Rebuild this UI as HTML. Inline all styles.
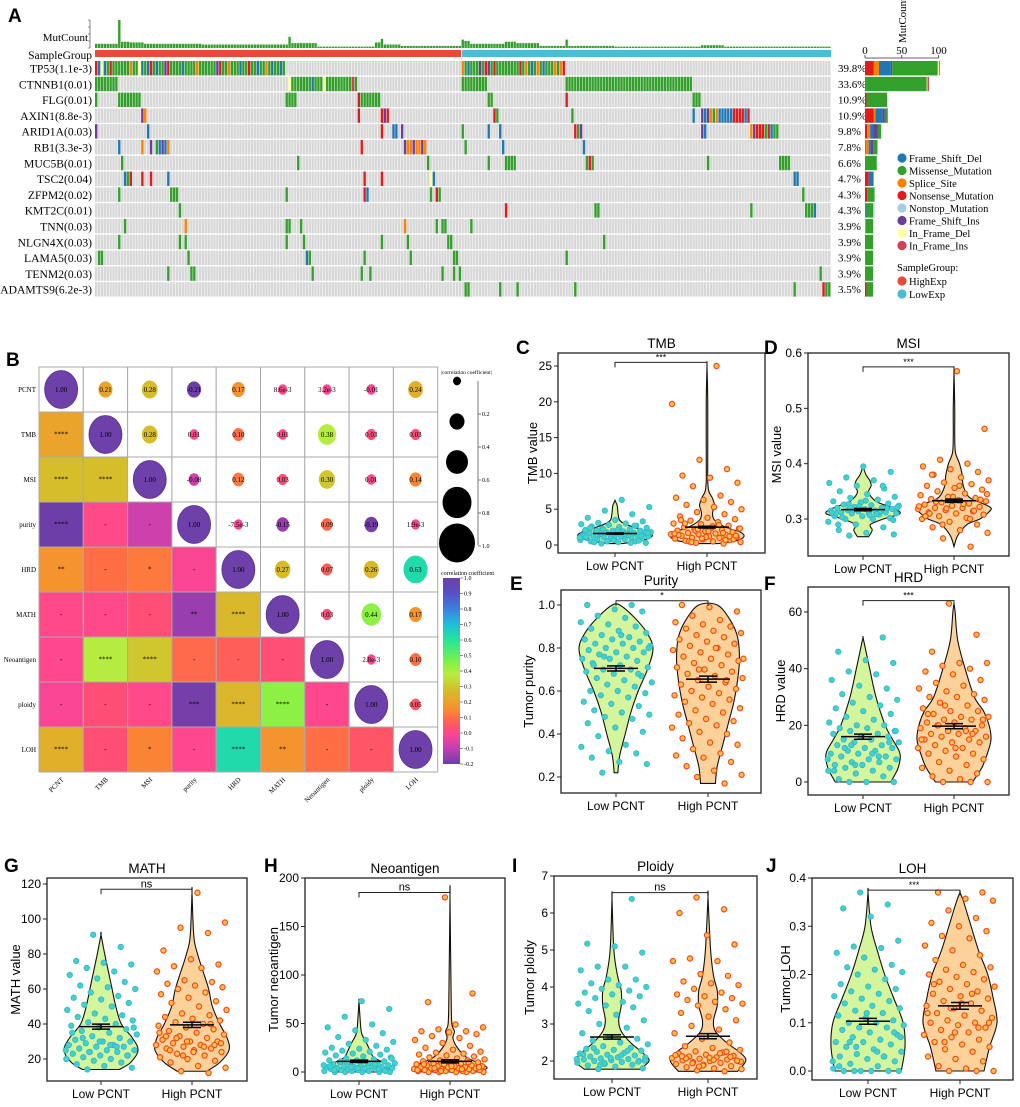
<!DOCTYPE html>
<html><head><meta charset="utf-8"><title>PCNT mutation and genomic features</title>
<style>
html,body{margin:0;padding:0;background:#fff;}
svg{display:block;}
text{font-family:"Liberation Sans",Arial,sans-serif;}
.serif{font-family:"Liberation Serif","Times New Roman",serif;}
</style></head>
<body>
<svg id="fig" xmlns="http://www.w3.org/2000/svg" width="1020" height="1107" viewBox="0 0 1020 1107">
<defs>
<pattern id="cellpat" patternUnits="userSpaceOnUse" x="95" y="0" width="2.886" height="20"><rect x="0" y="0" width="2.35" height="20" fill="#d7d7d7"/></pattern>
<linearGradient id="cgrad" x1="0" y1="0" x2="0" y2="1"></linearGradient>
</defs>
</svg>
<script>
// ===================== DATA =====================
const geneNames=["TP53(1.1e-3)","CTNNB1(0.01)","FLG(0.01)","AXIN1(8.8e-3)","ARID1A(0.03)","RB1(3.3e-3)","MUC5B(0.01)","TSC2(0.04)","ZFPM2(0.02)","KMT2C(0.01)","TNN(0.03)","NLGN4X(0.03)","LAMA5(0.03)","TENM2(0.03)","ADAMTS9(6.2e-3)"];
const genePct=["39.8%","33.6%","10.9%","10.9%","9.8%","7.8%","6.6%","4.7%","4.3%","4.3%","3.9%","3.9%","3.9%","3.9%","3.5%"];
const nSamples=255;
const nHigh=127;
const mutations=[
[0,0,"NFDFMNMMMMMMSMMDFMFNMFMMINMMMMFMMMMSMMMMMMINMMSMMMFMMNMMFMMSMFMMFM"],
[0,127,"SMFMMMIMNIMNMMMMMMMMNMSMFMSMFMMMSMSN"],
[1,0,8,"M"],[1,67,"DMMMMMMMFMMMDMMMMMMMMMRM"],[1,127,9,"M"],[1,163,44,"M"],
[2,0,1,"M"],[2,8,8,"M"],[2,66,4,"M"],[2,91,"NMMMMMMM"],[2,136,2,"M"],[2,163,"N"],[2,207,3,"M"],
[3,16,"IS"],[3,91,"N"],[3,99,"NIN"],[3,138,"NM"],[3,165,"M"],[3,207,"F"],[3,210,"IFISMSFFFFFNNNNFN"],
[4,0,"I"],[4,18,"F"],[4,99,"N"],[4,103,"FF"],[4,106,"I"],[4,127,"M"],[4,136,"F"],[4,140,"F"],[4,166,"NMI"],[4,210,"IF"],[4,227,"SINNNMNFMM"],
[5,8,"F"],[5,16,"S"],[5,19,"I"],[5,21,"MFIFS"],[5,92,"N"],[5,107,"ISSISSIS"],[5,128,"M"],[5,141,"F"],[5,169,"F"],
[6,9,"M"],[6,70,"M"],[6,115,"M"],[6,136,"M"],[6,142,4,"M"],[6,170,"MNM"],[6,212,"M"],[6,237,4,"M"],
[7,10,"FMN"],[7,16,"N"],[7,19,"N"],[7,25,"F"],[7,93,"N"],[7,99,"N"],[7,116,"DF"],[7,242,"FF"],
[8,8,"M"],[8,26,3,"M"],[8,66,"M"],[8,93,"NF"],[8,116,"M"],[8,118,"NM"],[8,245,"M"],
[9,29,"M"],[9,142,"N"],[9,173,2,"M"],[9,227,"M"],[9,246,"MMMF"],
[10,10,"M"],[10,31,"S"],[10,66,2,"M"],[10,71,"M"],[10,107,"S"],[10,118,"M"],[10,120,2,"M"],[10,130,"M"],
[11,8,"M"],[11,29,"M"],[11,31,"M"],[11,66,"M"],[11,72,"M"],[11,99,"M"],[11,108,"M"],[11,122,2,"M"],[11,176,"M"],
[12,1,2,"M"],[12,32,"M"],[12,73,"FM"],[12,93,"M"],[12,109,"M"],[12,124,2,"M"],[12,163,"M"],
[13,25,"M"],[13,33,2,"M"],[13,75,"M"],[13,92,"M"],[13,95,"M"],[13,120,"M"],[13,124,"M"],[13,126,"M"],[13,251,"M"],
[14,128,"M"],[14,129,"M"],[14,140,"M"],[14,146,"M"],[14,166,"M"],[14,242,"M"],[14,252,"NMM"]
];
const mutCountRuns=[[0,8,6],[8,1,40],[9,3,9],[12,5,8],[17,10,6],[27,10,6],[37,15,5],[52,15,5],[67,1,16],[68,9,7],[77,20,2],[97,2,8],[99,1,13],[100,6,5],[106,21,3],[127,1,12],[128,2,10],[130,12,6],[142,4,9],[146,8,7],[154,9,3],[163,1,12],[164,16,3],[180,30,2],[210,8,4],[218,30,2],[248,7,2]];
const barN=[12,0,2,12,3,1,0,5,3,1,0,0,0,0,2];
const barS=[7,0,0,2,4,4,0,0,0,0,1,0,0,0,0];
const barF=[16,0,0,10,4,3,0,6,1,1,0,0,1,0,0];
const barI=[2,0,0,3,6,3,0,0,0,0,0,0,0,0,0];
const barM=[62,84,28,4,5,6,16,1,9,9,10,11,10,11,9];
const barT=[0,0,0,0,0,0,0,0,0,2,0,0,0,0,0];
const barD=[2,1,0,0,0,0,0,1,0,0,0,0,0,0,0];
const barR=[1,2,0,0,0,0,0,0,0,0,0,0,0,0,0];
const barTicks=[0,50,100];
const mutTypes=["Frame_Shift_Del","Missense_Mutation","Splice_Site","Nonsense_Mutation","Nonstop_Mutation","Frame_Shift_Ins","In_Frame_Del","In_Frame_Ins"];

const corrVars=["PCNT","TMB","MSI","purity","HRD","MATH","Neoantigen","ploidy","LOH"];
const corrRow0=[1,0.21,0.28,-0.21,0.17,0.0086,0.0032,-0.01,0.24];
const corrRow1=[0.21,1,0.28,0.01,0.10,0.01,0.38,0.03,0.03];
const corrRow2=[0.28,0.28,1,-0.08,0.12,0.03,0.30,0.01,0.14];
const corrRow3=[-0.21,0.01,-0.08,1,-0.0075,-0.15,0.09,-0.19,0.0019];
const corrRow4=[0.17,0.10,0.12,-0.0075,1,0.27,0.07,0.26,0.63];
const corrRow5=[0.0086,0.01,0.03,-0.15,0.27,1,0.03,0.44,0.17];
const corrRow6=[0.0032,0.38,0.30,0.09,0.07,0.03,1,0.0028,0.10];
const corrRow7=[-0.01,0.03,0.01,-0.19,0.26,0.44,0.0028,1,0.05];
const corrRow8=[0.24,0.03,0.14,0.0019,0.63,0.17,0.10,0.05,1];
const corrStars=[
[],
["****"],
["****","****"],
["****","-","-"],
["**","-","*","-"],
["-","-","-","**","****"],
["-","****","****","-","-","-"],
["-","-","-","***","****","****","-"],
["****","-","*","-","****","**","-","-"]
];
const sizeLegendVals=[0.2,0.4,0.6,0.8,1.0];
const colorbarTicks=[1.0,0.9,0.8,0.7,0.6,0.5,0.4,0.3,0.2,0.1,0.0,-0.1,-0.2];

const tmbTicks=[0,5,10,15,20,25];
const tmbLow=[0.2,0.3,0.4,0.5,0.5,0.6,0.7,0.8,0.8,0.9,1,1,1.1,1.1,1.2,1.2,1.3,1.3,1.4,1.4,1.5,1.5,1.6,1.6,1.7,1.7,1.8,1.8,1.9,1.9,2,2,2.1,2.2,2.3,2.4,2.5,2.6,2.7,2.8,2.9,3,3.1,3.3,3.5,3.8,4.3,4.8,5.3,6.3,0.4,0.6,0.9,1.2,1.4,1.6,1.8,2.1,2.4,2.7,0.5,1,1.5,2,1.3,0.7,1.1,0.3,2.2,1.7];
const tmbHigh=[0.2,0.3,0.4,0.5,0.6,0.7,0.8,0.9,1,1,1.1,1.2,1.3,1.4,1.5,1.5,1.6,1.7,1.8,1.9,2,2.1,2.2,2.3,2.4,2.5,2.7,2.9,3,3.2,3.4,3.6,3.8,4,4.3,4.6,5,5.3,5.6,6,6.3,6.6,6.9,8.2,8.7,9.4,9.7,10.6,11.9,19.7,25,0.5,0.8,1.1,1.4,1.7,2,2.3,2.6,3,1.2,0.9,1.6,2.8,0.4,1.3,1.9,3.5,0.7,2.2];
const tmbLowShape=[[0.2,0.2],[0.6,0.7],[1.2,1],[1.8,0.9],[2.4,0.55],[3,0.25],[3.5,0.12],[4.5,0.08],[5.5,0.06],[6.2,0]];
const tmbHighShape=[[0.2,0.3],[0.6,0.8],[1.2,1],[1.8,0.9],[2.5,0.5],[3.5,0.2],[4.5,0.15],[5.5,0.2],[6.5,0.15],[7.5,0.05],[9,0.02],[12,0.02],[20,0.02],[25,0]];
const tmbStats=[1.6,0.08,2.5,0.12];

const msiTicks=[0.3,0.4,0.5,0.6];
const msiLow=[0.27,0.272,0.275,0.28,0.285,0.29,0.295,0.3,0.3,0.302,0.305,0.305,0.308,0.31,0.31,0.31,0.312,0.312,0.314,0.315,0.315,0.316,0.318,0.318,0.32,0.32,0.322,0.324,0.325,0.326,0.328,0.33,0.332,0.335,0.338,0.34,0.345,0.35,0.355,0.36,0.365,0.37,0.375,0.385,0.395,0.31,0.313,0.317,0.321,0.307,0.303,0.319,0.323,0.311,0.309,0.327,0.298,0.333,0.29,0.36];
const msiHigh=[0.25,0.265,0.275,0.28,0.285,0.29,0.295,0.3,0.302,0.305,0.308,0.31,0.312,0.314,0.316,0.318,0.32,0.32,0.322,0.324,0.326,0.328,0.33,0.332,0.334,0.336,0.338,0.34,0.343,0.346,0.35,0.353,0.356,0.36,0.363,0.366,0.37,0.375,0.38,0.385,0.39,0.395,0.4,0.407,0.463,0.567,0.31,0.315,0.319,0.323,0.327,0.331,0.335,0.34,0.305,0.3,0.29,0.345,0.36,0.38];
const msiLowShape=[[0.268,0.15],[0.28,0.25],[0.29,0.2],[0.3,0.55],[0.31,1],[0.32,0.8],[0.33,0.4],[0.34,0.22],[0.35,0.15],[0.36,0.22],[0.37,0.18],[0.38,0.08],[0.395,0]];
const msiHighShape=[[0.25,0],[0.27,0.1],[0.29,0.35],[0.3,0.7],[0.31,0.9],[0.32,1],[0.33,0.7],[0.34,0.4],[0.36,0.25],[0.38,0.22],[0.4,0.15],[0.42,0.04],[0.45,0.02],[0.5,0.02],[0.567,0]];
const msiStats=[0.317,0.002,0.333,0.003];

const purTicks=[0.2,0.4,0.6,0.8,1.0];
const purLow=[0.22,0.26,0.27,0.29,0.31,0.32,0.34,0.35,0.39,0.41,0.43,0.45,0.47,0.48,0.49,0.5,0.51,0.53,0.54,0.55,0.57,0.58,0.59,0.6,0.6,0.62,0.63,0.64,0.65,0.66,0.67,0.68,0.69,0.7,0.7,0.71,0.72,0.73,0.74,0.75,0.75,0.76,0.77,0.78,0.78,0.79,0.8,0.8,0.81,0.82,0.82,0.83,0.84,0.84,0.85,0.86,0.87,0.88,0.89,0.9,0.91,0.92,0.94,0.95,0.97,0.98,1,1,0.76,0.8,0.86,0.72,0.68];
const purHigh=[0.17,0.2,0.21,0.23,0.25,0.27,0.29,0.3,0.31,0.33,0.35,0.36,0.38,0.4,0.41,0.43,0.44,0.45,0.46,0.47,0.49,0.5,0.51,0.52,0.54,0.55,0.56,0.57,0.58,0.59,0.6,0.61,0.62,0.63,0.64,0.65,0.66,0.67,0.68,0.69,0.7,0.71,0.72,0.73,0.74,0.75,0.76,0.77,0.78,0.79,0.8,0.81,0.82,0.83,0.84,0.85,0.86,0.87,0.88,0.89,0.9,0.91,0.92,0.93,0.95,0.97,0.99,1,0.65,0.7,0.75,0.8];
const purLowShape=[[0.22,0.05],[0.3,0.1],[0.4,0.25],[0.5,0.4],[0.6,0.6],[0.7,0.85],[0.8,1],[0.88,0.8],[0.95,0.45],[1,0.1]];
const purHighShape=[[0.17,0.2],[0.25,0.25],[0.35,0.4],[0.45,0.55],[0.55,0.7],[0.65,0.8],[0.75,0.85],[0.85,0.8],[0.93,0.6],[1,0.25]];
const purStats=[0.705,0.012,0.655,0.014];

const hrdTicks=[0,20,40,60];
const hrdLow=[0,0,0,1,2,3,4,4,5,5,6,6,7,7,8,8,9,9,10,10,11,11,12,12,13,13,14,14,15,15,16,16,17,17,18,18,19,19,20,20,21,22,23,24,25,26,27,28,29,30,31,33,34,36,38,39,42,43,46,51,6,8,10,12,14,16,4,9,13,18];
const hrdHigh=[0,0,0,1,2,3,4,5,6,7,8,9,10,10,11,12,12,13,14,14,15,15,16,16,17,17,18,18,19,19,20,20,21,21,22,22,23,23,24,25,25,26,27,28,29,30,30,31,32,33,34,35,36,38,39,40,41,42,42,46,52,63,15,18,20,22,12,24,17,27];
const hrdLowShape=[[0,0.75],[5,0.95],[10,1],[15,0.8],[20,0.6],[30,0.35],[40,0.18],[48,0.05],[51,0]];
const hrdHighShape=[[0,0.5],[5,0.75],[10,0.9],[15,1],[20,0.95],[25,0.8],[30,0.55],[40,0.3],[50,0.1],[60,0.03],[63,0]];
const hrdStats=[16,0.9,19.7,0.9];

const mathTicks=[20,40,60,80,100,120];
const mathLow=[14,15,16,17,18,19,20,20,21,22,22,23,24,24,25,25,26,27,27,28,28,29,30,30,31,32,33,34,35,36,37,38,39,40,41,42,43,44,45,46,48,50,51,52,54,55,56,58,60,61,62,64,66,68,70,72,74,75,76,84,91,25,28,32,22,30,35,27,24,38];
const mathHigh=[12,13,15,16,18,19,20,21,22,23,24,25,26,26,27,28,28,29,30,30,31,32,33,34,35,36,37,38,39,40,41,42,43,44,45,46,48,50,52,53,55,57,58,60,61,62,63,64,65,70,72,73,74,77,82,92,95,98,115,25,28,30,35,27,32,29,24,33,40,22];
const mathLowShape=[[14,0.5],[18,0.8],[25,1],[32,0.85],[40,0.55],[50,0.4],[60,0.3],[70,0.2],[80,0.1],[91,0]];
const mathHighShape=[[13,0.4],[18,0.75],[25,1],[32,0.95],[40,0.75],[50,0.55],[60,0.45],[70,0.3],[80,0.15],[90,0.05],[115,0]];
const mathStats=[38.5,1.4,39.5,1.5];

const neoTicks=[0,50,100,150,200];
const neoLow=[0,0,0,0,0,1,1,1,2,2,2,3,3,3,4,4,4,5,5,5,6,6,7,7,8,8,9,9,10,10,11,12,12,13,14,15,16,17,18,19,20,21,22,23,24,25,27,29,31,33,36,40,43,46,49,57,65,73,2,3,5,7,9,11,1,4,6,8,10,14];
const neoHigh=[0,0,0,0,0,1,1,1,1,2,2,2,2,3,3,3,4,4,4,5,5,5,6,6,6,7,7,8,8,9,9,10,10,11,12,12,13,14,15,16,17,18,19,20,21,23,25,27,30,33,35,37,39,41,42,42,44,46,49,72,81,180,2,3,4,5,6,8,10,1];
const neoLowShape=[[0,0.6],[5,0.9],[10,0.65],[15,0.4],[22,0.3],[30,0.2],[40,0.07],[55,0.03],[73,0]];
const neoHighShape=[[0,0.75],[4,1],[8,0.85],[15,0.45],[25,0.2],[35,0.08],[42,0.12],[50,0.05],[80,0.03],[180,0]];
const neoStats=[11,1.2,11,1.6];

const ploTicks=[2,3,4,5,6,7];
const ploLow=[1.78,1.8,1.85,1.88,1.9,1.92,1.95,1.97,2,2,2.02,2.04,2.05,2.07,2.1,2.1,2.12,2.15,2.17,2.2,2.22,2.25,2.28,2.3,2.33,2.36,2.4,2.45,2.5,2.55,2.6,2.65,2.75,2.9,3,3.1,3.25,3.35,3.45,3.5,3.55,3.6,3.7,3.75,3.8,3.85,3.9,3.95,4,4.05,4.1,4.2,4.2,4.45,4.55,4.55,4.93,5.1,5.17,6.38,1.95,2.05,2.15,2.35,1.98,2.08,2.18,2.28,1.9,2.01];
const ploHigh=[1.72,1.75,1.78,1.8,1.83,1.86,1.9,1.92,1.95,1.97,2,2,2.02,2.04,2.06,2.08,2.1,2.12,2.14,2.17,2.2,2.23,2.26,2.3,2.35,2.4,2.5,2.6,2.75,2.85,2.95,3.1,3.2,3.3,3.4,3.5,3.55,3.6,3.65,3.7,3.75,3.8,3.85,3.95,4.05,4.1,4.15,4.3,4.35,4.7,4.7,4.77,5.15,5.4,6,6.1,6.42,1.98,2.03,2.07,2.11,1.88,2.16,2.21,1.94,2.01,2.09,2.13,2.25,1.85];
const ploLowShape=[[1.78,0.75],[2,1],[2.2,0.85],[2.5,0.5],[2.8,0.25],[3.1,0.18],[3.5,0.25],[3.9,0.25],[4.3,0.15],[5,0.05],[6.4,0]];
const ploHighShape=[[1.72,0.8],[2,1.02],[2.2,0.9],[2.5,0.5],[2.8,0.2],[3.1,0.15],[3.5,0.25],[3.9,0.25],[4.3,0.15],[5,0.07],[6.42,0]];
const ploStats=[2.65,0.06,2.67,0.07];

const lohTicks=[0.0,0.1,0.2,0.3,0.4];
const lohLow=[0,0,0,0,0,0,0.005,0.01,0.015,0.02,0.025,0.03,0.03,0.035,0.04,0.045,0.05,0.055,0.06,0.06,0.065,0.07,0.075,0.08,0.085,0.09,0.09,0.095,0.1,0.1,0.105,0.11,0.115,0.12,0.125,0.13,0.135,0.14,0.145,0.15,0.155,0.16,0.165,0.17,0.175,0.18,0.19,0.2,0.205,0.21,0.215,0.22,0.235,0.245,0.255,0.258,0.27,0.32,0.337,0.345,0.37,0.02,0.04,0.06,0.08,0.12,0.01,0.03,0.05,0.07];
const lohHigh=[0,0,0,0.005,0.01,0.02,0.025,0.03,0.04,0.045,0.05,0.055,0.06,0.065,0.07,0.075,0.08,0.085,0.09,0.095,0.1,0.1,0.105,0.11,0.115,0.12,0.125,0.13,0.135,0.14,0.145,0.15,0.155,0.16,0.165,0.17,0.175,0.18,0.185,0.19,0.195,0.2,0.205,0.21,0.215,0.22,0.23,0.24,0.25,0.26,0.275,0.28,0.29,0.3,0.307,0.317,0.333,0.353,0.357,0.37,0.37,0.08,0.12,0.16,0.06,0.1,0.14,0.18,0.09,0.13];
const lohLowShape=[[0,0.9],[0.05,1],[0.1,0.95],[0.15,0.7],[0.2,0.45],[0.25,0.25],[0.3,0.08],[0.37,0]];
const lohHighShape=[[0,0.65],[0.05,0.8],[0.1,1],[0.15,0.9],[0.2,0.75],[0.25,0.5],[0.3,0.3],[0.35,0.1],[0.37,0]];
const lohStats=[0.103,0.006,0.135,0.007];

// ===================== DRAWING =====================
const NS='http://www.w3.org/2000/svg';
const svg=document.getElementById('fig');
function mk(tag,parent,a){const e=document.createElementNS(NS,tag);for(const k in a)e.setAttribute(k,a[k]);parent.appendChild(e);return e;}
function tx(parent,x,y,s,a){const e=mk('text',parent,Object.assign({x:x,y:y},a||{}));e.textContent=s;return e;}
const typeColor={F:'#1f78b4',M:'#33a02c',S:'#ff7f00',N:'#e31a1c',T:'#a6cee3',I:'#6a3d9a',D:'#ffff99',R:'#d53e4f'};
const legendColors=['#1f78b4','#33a02c','#ff7f00','#e31a1c','#a6cee3','#6a3d9a','#ffff99','#d53e4f'];

const letters=[['A',8,22],['B',6,366],['C',516,354],['D',764,354],['E',510,590],['F',764,590],['G',4,872],['H',264,872],['I',512,872],['J',766,872]];
letters.forEach(l=>{const t=tx(svg,l[1],l[2],l[0],{'font-size':'19','font-weight':'bold',fill:'#000'});

});

// ---------- Panel A ----------
const gA=mk('g',svg,{});


const X0=95,X1=831,CW=(X1-X0)/nSamples,ROW0=61,RH=15.8,CH=14.4;
const mcG=mk('g',gA,{});


const mcBase=48, mcScale=0.7;
mutCountRuns.forEach(r=>{for(let k=0;k<r[1];k++){const i=r[0]+k;const h=r[2]*mcScale;
const b=mk('rect',mcG,{x:X0+i*CW,y:mcBase-h,width:CW-0.5,height:h,fill:'#33a02c'});

}});
const mcAx=mk('path',gA,{d:'M90,20 V48 M88,20 H90 M88,27 H90 M88,34 H90 M88,41 H90 M88,48 H90',stroke:'#333','stroke-width':'0.6',fill:'none'});


const mcl=tx(gA,88,41,'MutCount',{'class':'serif','font-size':'11','text-anchor':'end'});


const sgl=tx(gA,92,59,'SampleGroup',{'class':'serif','font-size':'11.5','text-anchor':'end'});


const hb=mk('rect',gA,{x:X0,y:50,width:nHigh*CW-0.5,height:7,fill:'#e64b35'});


const lb=mk('rect',gA,{x:X0+nHigh*CW+0.5,y:50,width:(nSamples-nHigh)*CW-0.5,height:7,fill:'#4dbbd5'});


geneNames.forEach((g,r)=>{const y=ROW0+r*RH;
const bg=mk('rect',gA,{x:X0,y:y,width:X1-X0,height:CH,fill:'url(#cellpat)'});


const t=tx(gA,92,y+11.5,g,{'class':'serif','font-size':'11.6','text-anchor':'end'});


const p=tx(gA,838,y+11,genePct[r],{'class':'serif','font-size':'11'});

});
mutations.forEach(m=>{const r=m[0];let codes;
if(typeof m[2]==='number'){codes=m[3].repeat(m[2]);}else codes=m[2];
for(let k=0;k<codes.length;k++){const i=m[1]+k;
const c=mk('rect',gA,{x:X0+i*CW,y:ROW0+r*RH,width:CW-0.5,height:CH,fill:typeColor[codes[k]]});

}});
const BX0=865,BS=0.735;
const stackOrder=[['N',barN],['S',barS],['F',barF],['I',barI],['M',barM],['T',barT],['D',barD],['R',barR]];
geneNames.forEach((g,r)=>{let acc=0;stackOrder.forEach(s=>{const v=s[1][r];if(v>0){
const b=mk('rect',gA,{x:BX0+acc*BS,y:ROW0+r*RH,width:v*BS,height:CH,fill:typeColor[s[0]]});

acc+=v;}});});
const bax=mk('path',gA,{d:'M'+BX0+',58 H'+(BX0+100*BS),stroke:'#333','stroke-width':'0.8',fill:'none'});


barTicks.forEach(v=>{const x=BX0+v*BS;
const tk=mk('line',gA,{x1:x,x2:x,y1:55,y2:58,stroke:'#333','stroke-width':'0.8'});


const t=tx(gA,x,54,String(v),{'class':'serif','font-size':'11','text-anchor':'middle'});

});
const mct=tx(gA,0,0,'MutCount',{'class':'serif','font-size':'11',transform:'translate(906,43) rotate(-90)'});


mutTypes.forEach((m,k)=>{const y=158+k*12.5;
const c=mk('circle',gA,{cx:902,cy:y,r:4.6,fill:legendColors[k]});


const t=tx(gA,909,y+4,m,{'class':'serif','font-size':'10.5'});

});
const sgt=tx(gA,897,271,'SampleGroup:',{'class':'serif','font-size':'10.5'});


[['HighExp','#e64b35',281],['LowExp','#4dbbd5',294]].forEach(s=>{
const c=mk('circle',gA,{cx:902,cy:s[2],r:4.6,fill:s[1]});


const t=tx(gA,909,s[2]+4,s[0],{'class':'serif','font-size':'10.5'});

});

// ---------- Panel B ----------
const corrR=[corrRow0,corrRow1,corrRow2,corrRow3,corrRow4,corrRow5,corrRow6,corrRow7,corrRow8];
const cstops=[[-0.2,'#6e3ea8'],[-0.1,'#c23fb2'],[0,'#ff4690'],[0.05,'#ff5566'],[0.1,'#ff6e45'],[0.15,'#fa8a30'],[0.2,'#eea02b'],[0.28,'#d6bd2a'],[0.38,'#b6ec40'],[0.45,'#85f245'],[0.6,'#22e598'],[0.7,'#1fbfd8'],[0.8,'#3c7fe0'],[0.9,'#5850c6'],[1.0,'#6e40aa']];
function hex2(c){return [parseInt(c.substr(1,2),16),parseInt(c.substr(3,2),16),parseInt(c.substr(5,2),16)];}
function ccol(v){v=Math.max(-0.2,Math.min(1,v));for(let k=0;k<cstops.length-1;k++){const a=cstops[k],b=cstops[k+1];if(v<=b[0]){const t=(v-a[0])/(b[0]-a[0]);const A=hex2(a[1]),B=hex2(b[1]);return 'rgb('+A.map((x,i)=>Math.round(x+(B[i]-x)*t)).join(',')+')';}}return cstops[cstops.length-1][1];}
function fmt(v){if(v===1)return '1.00';if(Math.abs(v)<0.01&&v!==0){return v.toExponential(1);}return v.toFixed(2);}
const gB=mk('g',svg,{});


const GX=39,GY=367,GW=44.3,GH=45;
corrVars.forEach((vn,i)=>{corrVars.forEach((vm,j)=>{const x=GX+j*GW,y=GY+i*GH,v=corrR[i][j];
if(i>j){const c=mk('rect',gB,{x:x,y:y,width:GW,height:GH,fill:ccol(v),stroke:'#aaa','stroke-width':'1'});


const t=tx(gB,x+GW/2,y+GH/2+2,corrStars[i][j],{'class':'serif','font-size':'7','text-anchor':'middle'});

}
else{const c=mk('rect',gB,{x:x,y:y,width:GW,height:GH,fill:'#fff',stroke:'#aaa','stroke-width':'1'});


const rx=4.5+12*Math.abs(v);
const e=mk('ellipse',gB,{cx:x+GW/2,cy:y+GH/2,rx:rx,ry:rx*1.15,fill:ccol(v),stroke:'#5a3090','stroke-width':i===j?'0.8':'0'});


const t=tx(gB,x+GW/2,y+GH/2+2.5,fmt(v),{'class':'serif','font-size':'7','text-anchor':'middle'});

}});
const rl=tx(gB,36,GY+i*GH+GH/2+2.5,vn,{'class':'serif','font-size':'7','text-anchor':'end'});


const cx=GX+i*GW+GW/2;
const cl=tx(gB,0,0,vn,{'class':'serif','font-size':'7','text-anchor':'end',transform:'translate('+(cx+3)+','+(GY+9*GH+8)+') rotate(-45)'});

});
const slt=tx(gB,441,374,'|correlation coefficient|',{'class':'serif','font-size':'5.5'});


const slAx=mk('path',gB,{d:'M478,381 V545',stroke:'#555','stroke-width':'0.8',fill:'none'});


sizeLegendVals.forEach((v,k)=>{const y=381+k*40.5;
const rr=4+14*(v-0.2)/0.8;
const c=mk('ellipse',gB,{cx:457,cy:y,rx:rr,ry:rr*1.08,fill:'#000'});


const ty=381+33*(k+1);
const tk=mk('line',gB,{x1:478,x2:481,y1:ty,y2:ty,stroke:'#555','stroke-width':'0.8'});


const t=tx(gB,482,ty+2,v.toFixed(1),{'class':'serif','font-size':'6'});

});
const grad=document.getElementById('cgrad');
cstops.slice().reverse().forEach(s=>{mk('stop',grad,{offset:((1-s[0])/1.2*100)+'%','stop-color':s[1]});});
const cbt=tx(gB,441,575,'correlation coefficient',{'class':'serif','font-size':'6'});


const CBT=578,CBB=764;
const cb=mk('rect',gB,{x:443,y:CBT,width:17,height:CBB-CBT,fill:'url(#cgrad)'});


colorbarTicks.forEach(v=>{const y=CBT+(1-v)/1.2*(CBB-CBT);
const tk=mk('line',gB,{x1:460,x2:463,y1:y,y2:y,stroke:'#555','stroke-width':'0.7'});


const t=tx(gB,464,y+2,v.toFixed(1),{'class':'serif','font-size':'6'});

});

// ---------- Violin panels ----------
const panels=[
{id:'tmb',title:'TMB',ylab:'TMB value',box:[558,353,765,553],xl:615,xh:707,y0:0,y1:25,p0:545,p1:366,ticks:tmbTicks,dec:0,low:tmbLow,high:tmbHigh,ls:tmbLowShape,hs:tmbHighShape,st:tmbStats,sig:'***',sigV:25.5,ylx:531},
{id:'msi',title:'MSI',ylab:'MSI value',box:[808,353,1009,556],xl:863,xh:954,y0:0.3,y1:0.6,p0:519,p1:353,ticks:msiTicks,dec:1,low:msiLow,high:msiHigh,ls:msiLowShape,hs:msiHighShape,st:msiStats,sig:'***',sigV:0.575,ylx:775},
{id:'purity',title:'Purity',ylab:'Tumor purity',box:[561,590,761,793],xl:616,xh:708,y0:0.2,y1:1.0,p0:777,p1:605,ticks:purTicks,dec:1,low:purLow,high:purHigh,ls:purLowShape,hs:purHighShape,st:purStats,sig:'*',sigV:1.02,ylx:527},
{id:'hrd',title:'HRD',ylab:'HRD value',box:[808,587,1009,795],xl:863,xh:954,y0:0,y1:60,p0:782,p1:612,ticks:hrdTicks,dec:0,low:hrdLow,high:hrdHigh,ls:hrdLowShape,hs:hrdHighShape,st:hrdStats,sig:'***',sigV:64,ylx:779},
{id:'math',title:'MATH',ylab:'MATH value',box:[47,878,247,1081],xl:101,xh:192,y0:20,y1:120,p0:1059,p1:884,ticks:mathTicks,dec:0,low:mathLow,high:mathHigh,ls:mathLowShape,hs:mathHighShape,st:mathStats,sig:'ns',sigV:117,ylx:14},
{id:'neo',title:'Neoantigen',ylab:'Tumor neoantigen',box:[305,878,505,1081],xl:359,xh:450,y0:0,y1:200,p0:1072,p1:878,ticks:neoTicks,dec:0,low:neoLow,high:neoHigh,ls:neoLowShape,hs:neoHighShape,st:neoStats,sig:'ns',sigV:185,ylx:272},
{id:'ploidy',title:'Ploidy',ylab:'Tumor ploidy',box:[554,876,757,1079],xl:612,xh:708,y0:2,y1:7,p0:1061,p1:876,ticks:ploTicks,dec:0,low:ploLow,high:ploHigh,ls:ploLowShape,hs:ploHighShape,st:ploStats,sig:'ns',sigV:6.55,ylx:528},
{id:'loh',title:'LOH',ylab:'Tumor LOH',box:[812,878,1013,1080],xl:868,xh:960,y0:0,y1:0.4,p0:1071,p1:878,ticks:lohTicks,dec:1,low:lohLow,high:lohHigh,ls:lohLowShape,hs:lohHighShape,st:lohStats,sig:'***',sigV:0.375,ylx:784}
];
const MAXW=37;
function catmull(pts){let d='M'+pts[0][0].toFixed(2)+','+pts[0][1].toFixed(2);
for(let i=0;i<pts.length-1;i++){const p0=pts[Math.max(0,i-1)],p1=pts[i],p2=pts[i+1],p3=pts[Math.min(pts.length-1,i+2)];
const c1=[p1[0]+(p2[0]-p0[0])/6,p1[1]+(p2[1]-p0[1])/6],c2=[p2[0]-(p3[0]-p1[0])/6,p2[1]-(p3[1]-p1[1])/6];
d+=' C'+c1[0].toFixed(2)+','+c1[1].toFixed(2)+' '+c2[0].toFixed(2)+','+c2[1].toFixed(2)+' '+p2[0].toFixed(2)+','+p2[1].toFixed(2);}
return d+' Z';}
panels.forEach(p=>{
const g=mk('g',svg,{});


const ys=v=>p.p0+(v-p.y0)*(p.p1-p.p0)/(p.y1-p.y0);
const [bx0,by0,bx1,by1]=p.box;
const title=tx(g,(bx0+bx1)/2,by0-5,p.title,{'font-size':'13.5','text-anchor':'middle'});


const yl=tx(g,0,0,p.ylab,{'font-size':'13','text-anchor':'middle',transform:'translate('+(p.ylx+6)+','+((by0+by1)/2)+') rotate(-90)'});


p.ticks.forEach(v=>{const y=ys(v);
const tk=mk('line',g,{x1:bx0-4,x2:bx0,y1:y,y2:y,stroke:'#222','stroke-width':'1'});


const t=tx(g,bx0-6,y+4,v.toFixed(p.dec),{'font-size':'12','text-anchor':'end'});

});
[[p.xl,'Low PCNT'],[p.xh,'High PCNT']].forEach(a=>{
const tk=mk('line',g,{x1:a[0],x2:a[0],y1:by1,y2:by1+4,stroke:'#222','stroke-width':'1'});


const t=tx(g,a[0],by1+17,a[1],{'font-size':'12','text-anchor':'middle'});

});
[[p.ls,p.xl,'#d5f59c','low'],[p.hs,p.xh,'#fdd29a','high']].forEach(a=>{const shape=a[0],cx=a[1];const pts=[];
shape.forEach(s=>pts.push([cx+s[1]*MAXW,ys(s[0])]));
for(let k=shape.length-1;k>=0;k--)pts.push([cx-shape[k][1]*MAXW,ys(shape[k][0])]);
const v=mk('path',g,{d:catmull(pts),fill:a[2],stroke:'#111','stroke-width':'1.1'});

});
p.low.forEach((v,i)=>{const j=((i*0.618034+0.31)%1)*2-1;
const d=mk('circle',g,{cx:p.xl+j*36,cy:ys(v),r:2.7,fill:'#3fd4c4',stroke:'#35b3d8','stroke-width':'0.8'});

});
p.high.forEach((v,i)=>{const j=((i*0.618034+0.73)%1)*2-1;
const d=mk('circle',g,{cx:p.xh+j*36,cy:ys(v),r:2.6,fill:'#ffc24a',stroke:'#f04a20','stroke-width':'1.2'});

});
[[p.xl,p.st[0],p.st[1]],[p.xh,p.st[2],p.st[3]]].forEach(a=>{const cx=a[0],ym=ys(a[1]),yt=ys(a[1]+a[2]),yb=ys(a[1]-a[2]);
const e=mk('path',g,{d:'M'+(cx-22)+','+ym+' H'+(cx+22)+' M'+cx+','+yt+' V'+yb+' M'+(cx-9)+','+yt+' H'+(cx+9)+' M'+(cx-9)+','+yb+' H'+(cx+9),stroke:'#000','stroke-width':'1.5',fill:'none'});

});
const sy=ys(p.sigV);
const br=mk('path',g,{d:'M'+p.xl+','+(sy+5)+' V'+sy+' H'+p.xh+' V'+(sy+5),stroke:'#222','stroke-width':'1',fill:'none'});


const sl=tx(g,(p.xl+p.xh)/2,sy-2,p.sig,{'font-size':p.sig==='ns'?'11':'9','text-anchor':'middle'});


const box=mk('rect',g,{x:bx0,y:by0,width:bx1-bx0,height:by1-by0,fill:'none',stroke:'#222','stroke-width':'1.3'});


});
</script>
</body></html>
